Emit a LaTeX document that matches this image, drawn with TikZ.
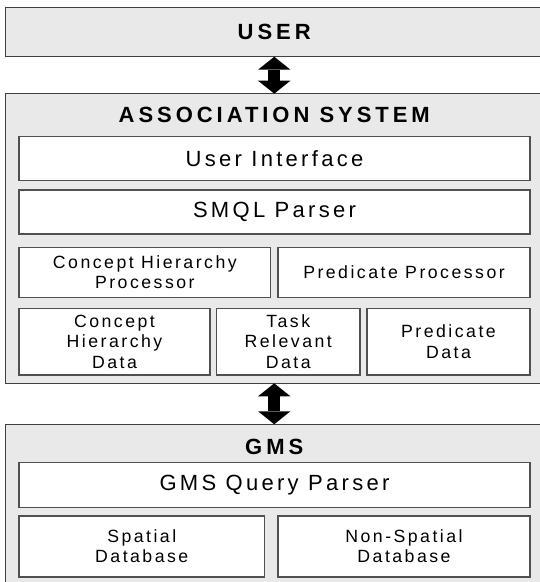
\documentclass[tikz,border=0pt]{standalone}
\usepackage{fontspec}
\setmainfont{Liberation Sans}
\newfontfamily\titlefont[LetterSpace=18]{Liberation Sans Bold}
\newfontfamily\bigspaced[LetterSpace=15]{Liberation Sans}
\newfontfamily\smallspaced[LetterSpace=14]{Liberation Sans}
\usetikzlibrary{arrows.meta}
\definecolor{panel}{HTML}{E9E9E9}
\definecolor{edgecol}{HTML}{404040}
\definecolor{inedge}{HTML}{505050}
\begin{document}
\begin{tikzpicture}[x=1pt,y=-1pt,
  outerbox/.style={draw=edgecol, line width=1.2pt, fill=panel, inner sep=0pt, outer sep=0pt},
  innerbox/.style={draw=inedge, line width=1.2pt, fill=white, inner sep=0pt, outer sep=0pt, align=center},
  titletext/.style={inner sep=0pt, font=\titlefont\fontsize{22}{25}\selectfont},
  bigtext/.style={font=\bigspaced\fontsize{22}{25}\selectfont},
  smalltext/.style={font=\smallspaced\fontsize{17.7}{20.3}\selectfont},
  blockarrow/.style={line width=12pt,
    {Triangle[width=32.4pt,length=13pt,line width=0pt]}-{Triangle[width=32.4pt,length=13pt,line width=0pt]}}
]
\useasboundingbox (0,0) rectangle (540,582);
\clip (0,0) rectangle (540,582);
% outer panels
\node[outerbox, minimum width=537.5pt, minimum height=49.4pt] (user) at (274.25,32) {};
\node[outerbox, minimum width=537.5pt, minimum height=289.6pt] (assoc) at (274.25,238.5) {};
\node[outerbox, minimum width=537.5pt, minimum height=165.7pt] (gms) at (274.25,507.15) {};
% titles
\node[titletext] (usertitle) at (274.25,32) {USER};
\node[titletext] (assoctitle) at (274.25,115) {ASSOCIATION SYSTEM};
\node[titletext] (gmstitle) at (274.25,446.7) {GMS};
% association system components
\node[innerbox, bigtext, minimum width=511pt, minimum height=44pt] (ui) at (274.5,158.5) {User Interface};
\node[innerbox, bigtext, minimum width=511pt, minimum height=44pt] (smql) at (274.5,212) {SMQL Parser};
\node[innerbox, smalltext, minimum width=251.7pt, minimum height=50pt] (chp) at (144.85,272.3) {Concept Hierarchy\\Processor};
\node[innerbox, smalltext, minimum width=252pt, minimum height=50pt] (pp) at (404,272.3) {Predicate Processor};
\node[innerbox, smalltext, minimum width=191pt, minimum height=66.7pt] (chd) at (114.5,341.65) {Concept\\Hierarchy\\Data};
\node[innerbox, smalltext, minimum width=143.5pt, minimum height=66.7pt] (trd) at (288.25,341.65) {Task\\Relevant\\Data};
\node[innerbox, smalltext, minimum width=163pt, minimum height=66.7pt] (pd) at (448.5,341.65) {Predicate\\Data};
% GMS components
\node[innerbox, bigtext, minimum width=511pt, minimum height=44.6pt] (qp) at (274.5,485) {GMS Query Parser};
\node[innerbox, smalltext, minimum width=245.5pt, minimum height=61pt] (sd) at (141.75,546.5) {Spatial\\Database};
\node[innerbox, smalltext, minimum width=252pt, minimum height=61pt] (nsd) at (404,546.5) {Non-Spatial\\Database};
% connectors
\draw[blockarrow] (user.south) -- (assoc.north);
\draw[blockarrow] (assoc.south) -- (gms.north);
\end{tikzpicture}
\end{document}
